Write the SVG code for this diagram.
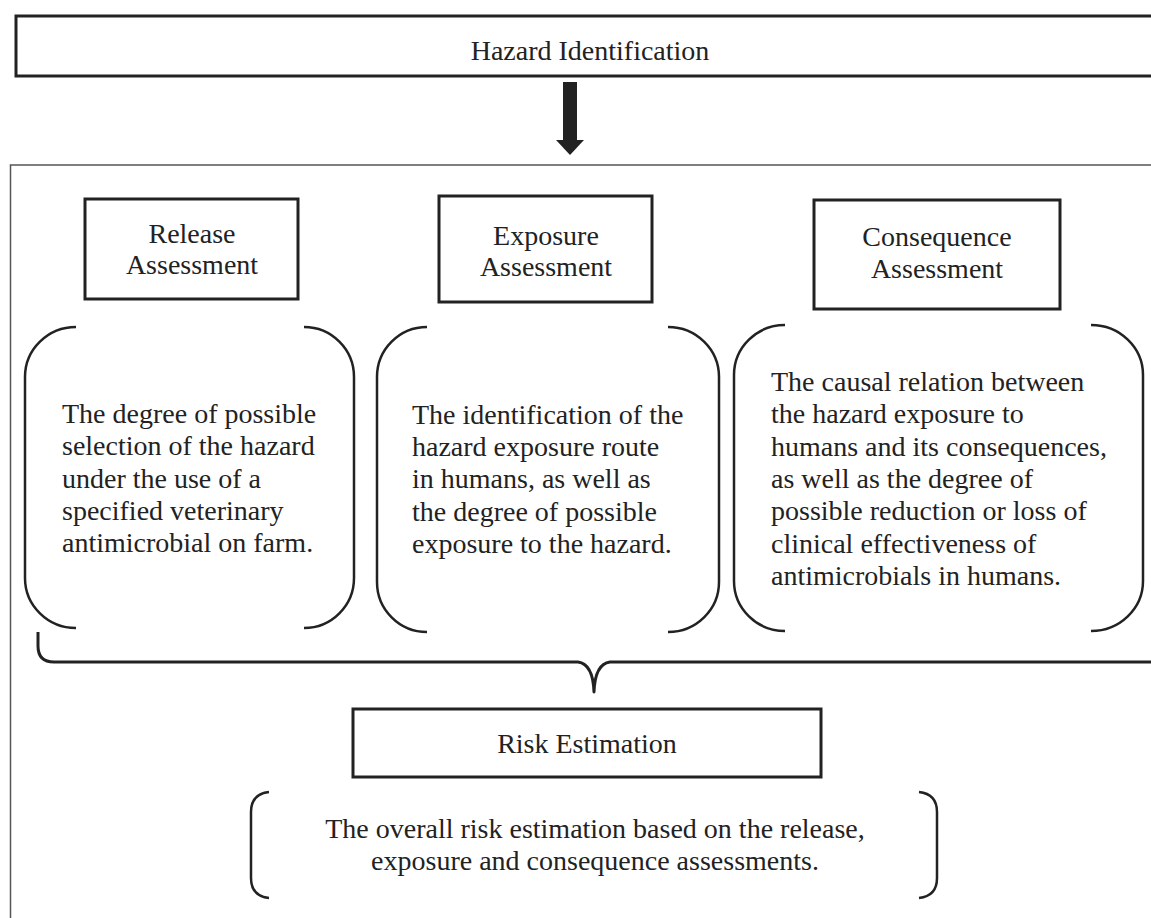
<svg xmlns="http://www.w3.org/2000/svg" width="1151" height="918" viewBox="0 0 1151 918">
<style>
.t{font-family:"Liberation Serif","Times New Roman",serif;font-size:28px;fill:#222}
.c{text-anchor:middle}
.box{fill:#fff;stroke:#222;stroke-width:3}
.br{fill:none;stroke:#222;stroke-width:2.5}
</style>
<rect width="1151" height="918" fill="#fff"/>
<rect id="frame" x="10.5" y="165" width="1200" height="800" fill="none" stroke="#555" stroke-width="1.5"/>
<g id="hazard">
<rect class="box" x="16" y="16" width="1150" height="60"/>
<text class="t c" x="590" y="60">Hazard Identification</text>
</g>
<g id="connectors">
<rect x="563" y="82" width="14" height="59" fill="#222"/>
<polygon points="556,140 584,140 570,155" fill="#222"/>
<path d="M38 632 L38 646 Q38 662 54 662 L578 662 Q593 664 594 692 Q595 664 610 662 L1160 662" fill="none" stroke="#222" stroke-width="3" stroke-linejoin="round"/>
</g>
<g id="release">
<rect class="box" x="85" y="199" width="213" height="100"/>
<text class="t c" x="192" y="243">Release</text>
<text class="t c" x="192" y="274">Assessment</text>
</g>
<g id="exposure">
<rect class="box" x="439" y="196" width="213" height="106"/>
<text class="t c" x="546" y="245">Exposure</text>
<text class="t c" x="546" y="276">Assessment</text>
</g>
<g id="consequence">
<rect class="box" x="814" y="200" width="246" height="109"/>
<text class="t c" x="937" y="246">Consequence</text>
<text class="t c" x="937" y="278">Assessment</text>
</g>
<g id="release-desc">
<path class="br" d="M76 327 A51 50 0 0 0 25 377 L25 578 A51 50 0 0 0 76 628"/>
<path class="br" d="M304 327 A50 50 0 0 1 354 377 L354 578 A50 50 0 0 1 304 628"/>
<text class="t" x="62" y="423">The degree of possible</text>
<text class="t" x="62" y="455">selection of the hazard</text>
<text class="t" x="62" y="488">under the use of a</text>
<text class="t" x="62" y="520">specified veterinary</text>
<text class="t" x="62" y="552">antimicrobial on farm.</text>
</g>
<g id="exposure-desc">
<path class="br" d="M427 327 A50 50 0 0 0 377 377 L377 582 A50 50 0 0 0 427 632"/>
<path class="br" d="M668 327 A51 50 0 0 1 719 377 L719 582 A51 50 0 0 1 668 632"/>
<text class="t" x="412" y="424">The identification of the</text>
<text class="t" x="412" y="456">hazard exposure route</text>
<text class="t" x="412" y="488">in humans, as well as</text>
<text class="t" x="412" y="521">the degree of possible</text>
<text class="t" x="412" y="553">exposure to the hazard.</text>
</g>
<g id="consequence-desc">
<path class="br" d="M785 325 A51 50 0 0 0 734 375 L734 581 A51 50 0 0 0 785 631"/>
<path class="br" d="M1091 325 A52 50 0 0 1 1143 375 L1143 581 A52 50 0 0 1 1091 631"/>
<text class="t" x="771" y="391">The causal relation between</text>
<text class="t" x="771" y="423">the hazard exposure to</text>
<text class="t" x="771" y="456">humans and its consequences,</text>
<text class="t" x="771" y="488">as well as the degree of</text>
<text class="t" x="771" y="520">possible reduction or loss of</text>
<text class="t" x="771" y="553">clinical effectiveness of</text>
<text class="t" x="771" y="585">antimicrobials in humans.</text>
</g>
<g id="risk">
<rect class="box" x="353" y="709" width="468" height="68"/>
<text class="t c" x="587" y="753">Risk Estimation</text>
</g>
<g id="risk-desc">
<path class="br" d="M269 792 Q251 794 251 812 L251 878 Q251 896 269 898"/>
<path class="br" d="M919 792 Q937 794 937 812 L937 878 Q937 896 919 898"/>
<text class="t c" x="595" y="838">The overall risk estimation based on the release,</text>
<text class="t c" x="595" y="870">exposure and consequence assessments.</text>
</g>
</svg>
